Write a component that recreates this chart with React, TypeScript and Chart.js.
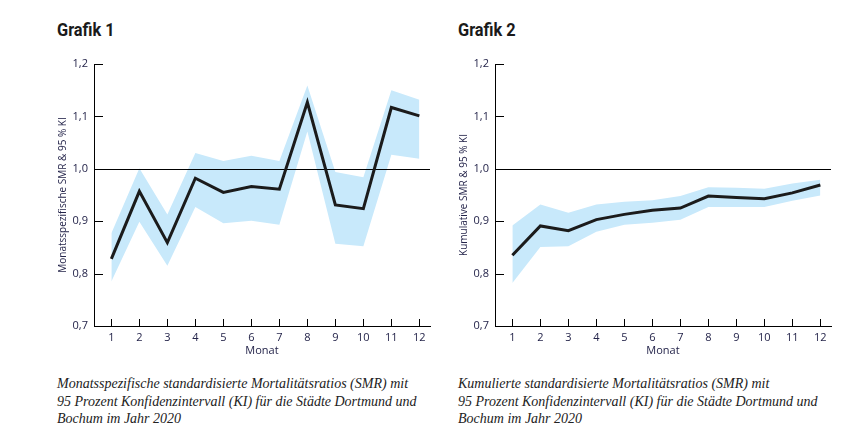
import React, { useEffect, useRef } from "react";
import { Chart, registerables } from "chart.js";

Chart.register(...registerables);

const months = [1, 2, 3, 4, 5, 6, 7, 8, 9, 10, 11, 12];
const yTicks = [0.7, 0.8, 0.9, 1.0, 1.1, 1.2];
const refValue = 1.0;

const smr1 = [0.828, 0.957, 0.859, 0.982, 0.955, 0.966, 0.961, 1.127, 0.931, 0.924, 1.117, 1.101];
const upper1 = [0.877, 1.001, 0.913, 1.03, 1.015, 1.025, 1.015, 1.159, 0.994, 0.984, 1.15, 1.132];
const lower1 = [0.785, 0.899, 0.815, 0.927, 0.896, 0.901, 0.893, 1.071, 0.857, 0.852, 1.027, 1.019];

const smr2 = [0.835, 0.891, 0.882, 0.903, 0.913, 0.921, 0.925, 0.948, 0.945, 0.943, 0.954, 0.969];
const upper2 = [0.892, 0.932, 0.916, 0.932, 0.937, 0.94, 0.948, 0.965, 0.964, 0.962, 0.972, 0.979];
const lower2 = [0.782, 0.851, 0.852, 0.88, 0.893, 0.897, 0.903, 0.927, 0.927, 0.927, 0.939, 0.949];

const title1 = "Grafik 1";
const title2 = "Grafik 2";
const yTitle1 = "Monatsspezifische SMR & 95 % KI";
const yTitle2 = "Kumulative SMR & 95 % KI";
const xTitle = "Monat";
const caption1 = [
  "Monatsspezifische standardisierte Mortalitätsratios (SMR) mit",
  "95 Prozent Konfidenzintervall (KI) für die Städte Dortmund und",
  "Bochum im Jahr 2020",
];
const caption2 = [
  "Kumulierte standardisierte Mortalitätsratios (SMR) mit",
  "95 Prozent Konfidenzintervall (KI) für die Städte Dortmund und",
  "Bochum im Jahr 2020",
];

const BAND = "#c8e9fb";
const LINE = "#1b1b1b";
const TICKCOL = "#24244a";
const FONT = '"Open Sans", "Noto Sans", sans-serif';

const innerTicks = {
  id: "innerTicks",
  beforeDatasetDraw(chart: any, args: any) {
    if (args.index !== 0) return;
    const { ctx, chartArea, scales } = chart;
    const y = scales.y;
    ctx.save();
    ctx.strokeStyle = "#000";
    ctx.lineWidth = 1;
    const ry = Math.round(y.getPixelForValue(refValue)) + 0.5;
    ctx.beginPath();
    ctx.moveTo(chartArea.left, ry);
    ctx.lineTo(chartArea.right, ry);
    ctx.stroke();
    ctx.restore();
  },
  afterDatasetsDraw(chart: any) {
    const { ctx, chartArea, scales } = chart;
    const y = scales.y;
    const x = scales.x;
    ctx.save();
    ctx.strokeStyle = "#000";
    ctx.lineWidth = 1;
    y.ticks.forEach((t: any) => {
      const py = Math.round(y.getPixelForValue(t.value)) + 0.5;
      ctx.beginPath();
      ctx.moveTo(chartArea.left, py);
      ctx.lineTo(chartArea.left + 9, py);
      ctx.stroke();
    });
    x.ticks.forEach((t: any) => {
      const px = Math.round(x.getPixelForValue(t.value)) + 0.5;
      ctx.beginPath();
      ctx.moveTo(px, chartArea.bottom);
      ctx.lineTo(px, chartArea.bottom - 7);
      ctx.stroke();
    });
    ctx.restore();
  },
};

function SmrChart({ smr, upper, lower, yTitle }: { smr: number[]; upper: number[]; lower: number[]; yTitle: string }) {
  const ref = useRef<HTMLCanvasElement>(null);
  useEffect(() => {
    const toPts = (arr: number[]) => arr.map((v, i) => ({ x: months[i], y: v }));
    const chart = new Chart(ref.current!, {
      type: "line",
      data: {
        datasets: [
          {
            data: toPts(smr),
            borderWidth: 3,
            borderColor: LINE,
            borderJoinStyle: "miter",
            pointRadius: 0,
            fill: false,
          },
          {
            data: toPts(upper),
            borderWidth: 0,
            borderColor: "rgba(0,0,0,0)",
            backgroundColor: BAND,
            pointRadius: 0,
            fill: "+1",
          },
          {
            data: toPts(lower),
            borderWidth: 0,
            borderColor: "rgba(0,0,0,0)",
            backgroundColor: BAND,
            pointRadius: 0,
            fill: false,
          },
        ],
      },
      options: {
        animation: false,
        responsive: false,
        maintainAspectRatio: false,
        layout: { padding: { left: 0, right: 10, top: 14, bottom: 0 } },
        plugins: { legend: { display: false }, tooltip: { enabled: false } },
        scales: {
          x: {
            type: "linear",
            min: 0.38,
            max: 12.38,
            afterBuildTicks: (s: any) => {
              s.ticks = months.map((m) => ({ value: m }));
            },
            afterFit: (s: any) => {
              s.height = 44;
            },
            grid: { display: false, drawTicks: false },
            border: { display: true, color: "#000", width: 1 },
            ticks: {
              color: TICKCOL,
              font: { family: FONT, size: 11 },
              padding: 5,
              maxRotation: 0,
              autoSkip: false,
              callback: (v: any) => String(v),
            },
            title: {
              display: true,
              text: xTitle,
              color: TICKCOL,
              font: { family: FONT, size: 11 },
              padding: { top: 0, bottom: 13 },
            },
          },
          y: {
            type: "linear",
            min: 0.7,
            max: 1.2,
            afterBuildTicks: (s: any) => {
              s.ticks = yTicks.map((v) => ({ value: v }));
            },
            afterFit: (s: any) => {
              s.width = 44;
            },
            grid: { display: false, drawTicks: false },
            border: { display: true, color: "#000", width: 1 },
            ticks: {
              color: TICKCOL,
              font: { family: FONT, size: 11 },
              padding: 6,
              callback: (v: any) => Number(v).toFixed(1).replace(".", ","),
            },
            title: {
              display: true,
              text: yTitle,
              color: TICKCOL,
              font: { family: FONT, size: 10 },
              padding: { top: 7, bottom: 0 },
            },
          },
        },
      },
      plugins: [innerTicks],
    } as any);
    return () => chart.destroy();
  }, []);
  return <canvas ref={ref} width={390} height={320} style={{ width: 390, height: 320, display: "block" }} />;
}

const titleStyle: React.CSSProperties = {
  position: "absolute",
  top: 20,
  fontFamily: 'Roboto, "Liberation Sans", sans-serif',
  fontWeight: 700,
  fontSize: 19,
  color: "#1a1a1a",
  margin: 0,
  lineHeight: "20px",
  transform: "scaleX(0.86)",
  transformOrigin: "left top",
};

const capStyle: React.CSSProperties = {
  position: "absolute",
  top: 375,
  fontFamily: '"Liberation Serif", "DejaVu Serif", serif',
  fontStyle: "italic",
  fontSize: 14,
  lineHeight: "17.5px",
  color: "#222",
  whiteSpace: "pre",
};

export default function App() {
  return (
    <div style={{ position: "absolute", left: 0, top: 0, width: 863, height: 440, background: "#fff", overflow: "hidden" }}>
      <div style={{ ...titleStyle, left: 57 }}>{title1}</div>
      <div style={{ ...titleStyle, left: 458 }}>{title2}</div>
      <div style={{ position: "absolute", left: 50, top: 50 }}>
        <SmrChart smr={smr1} upper={upper1} lower={lower1} yTitle={yTitle1} />
      </div>
      <div style={{ position: "absolute", left: 451, top: 50 }}>
        <SmrChart smr={smr2} upper={upper2} lower={lower2} yTitle={yTitle2} />
      </div>
      <div style={{ ...capStyle, left: 57 }}>{caption1.join("\n")}</div>
      <div style={{ ...capStyle, left: 458 }}>{caption2.join("\n")}</div>
    </div>
  );
}
